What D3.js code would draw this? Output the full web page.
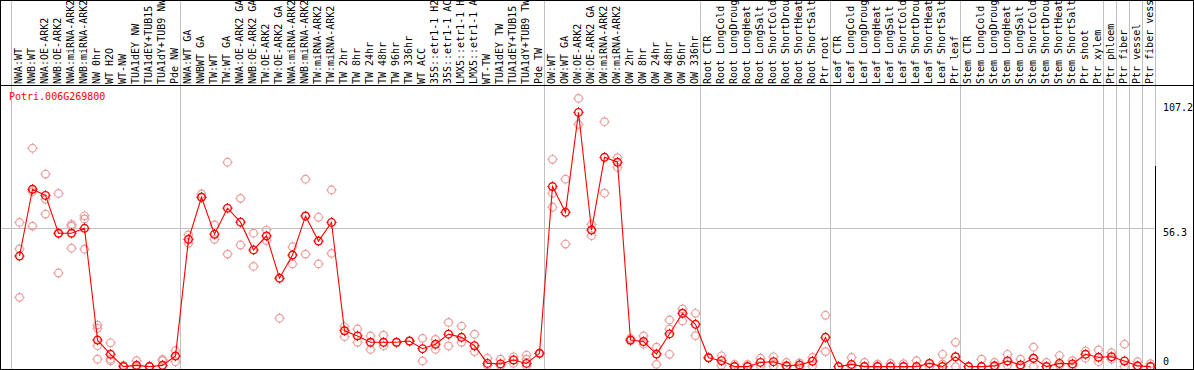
<!DOCTYPE html>
<html><head><meta charset="utf-8">
<script src="https://cdn.jsdelivr.net/npm/d3@7"></script>
<style>body{margin:0;background:#fff}svg{display:block}text{font-family:"DejaVu Sans Mono",monospace;font-size:10px}</style>
</head><body><svg id="c" width="1194" height="370"></svg>
<script>
const title = "Potri.006G269800";
const categories = ["NWA:WT","NWB:WT","NWA:OE-ARK2","NWB:OE-ARK2","NWA:miRNA-ARK2","NWB:miRNA-ARK2","NW 0hr","WT H2O","WT-NW","TUA1dEY NW","TUA1dEY+TUB15 NW","TUA1dY+TUB9 NW","Pde NW",
"NWA:WT GA","NWBWT GA","TW:WT","TW:WT GA","NWA:OE-ARK2 GA","NWB:OE-ARK2 GA","TW:OE-ARK2","TW:OE-ARK2 GA","NWA:miRNA-ARK2","NWB:miRNA-ARK2","TW:miRNA-ARK2","TW:miRNA-ARK2","TW 2hr","TW 8hr","TW 24hr","TW 48hr","TW 96hr","TW 336hr","WT ACC","35S::etr1-1 H2O","35S::etr1-1 ACC","LMX5::etr1-1 H2O","LMX5::etr1-1 ACC","WT-TW","TUA1dEY TW","TUA1dEY+TUB15 TW","TUA1dY+TUB9 TW","Pde TW",
"OW:WT","OW:WT GA","OW:OE-ARK2","OW:OE-ARK2 GA","OW:miRNA-ARK2","OW:miRNA-ARK2","OW 2hr","OW 8hr","OW 24hr","OW 48hr","OW 96hr","OW 336hr",
"Root CTR","Root LongCold","Root LongDrought","Root LongHeat","Root LongSalt","Root ShortCold","Root ShortDrought","Root ShortHeat","Root ShortSalt","Ptr root",
"Leaf CTR","Leaf LongCold","Leaf LongDrought","Leaf LongHeat","Leaf LongSalt","Leaf ShortCold","Leaf ShortDrought","Leaf ShortHeat","Leaf ShortSalt","Ptr leaf",
"Stem CTR","Stem LongCold","Stem LongDrought","Stem LongHeat","Stem LongSalt","Stem ShortCold","Stem ShortDrought","Stem ShortHeat","Stem ShortSalt","Ptr shoot",
"Ptr xylem","Ptr phloem","Ptr fiber","Ptr vessel","Ptr fiber vessel"];
const means = [45.0,72.2,69.7,54.3,54.3,56.3,10.8,5.0,0.0,0.5,0.0,0.5,4.3,
51.8,68.9,53.9,64.5,58.8,47.5,53.2,36.0,45.4,61.3,51.1,58.7,14.6,12.5,9.9,9.9,9.9,10.4,7.3,9.1,13.2,11.9,8.5,1.3,1.1,2.7,1.3,5.4,
73.3,62.8,103.5,55.6,85.2,83.2,10.8,10.2,5.1,13.3,21.7,17.2,
3.6,2.4,0.0,0.0,1.7,2.0,0.3,0.7,2.2,11.9,
0.0,0.9,0.0,0.0,0.0,0.0,0.0,1.3,0.0,4.0,
0.0,0.0,0.3,2.3,0.7,3.4,0.0,1.3,1.1,5.0,
3.8,4.0,2.3,0.3,0.0];
const replicates = [[58.7,47.9,28.2],[88.9,71.2,57.2],[78.4,68.1,62.1],[70.5,38.1,54.3],[57.9,57.2,48.2],[61.4,60.1,47.8],[16.9,15.6,8.5,3.0],[9.7,3.0,2.3],[0.5,0.2],[2.4,0.0],[0.3,0.0],[2.9,2.4],[6.5,2.0],
[53.6,50.2],[70.3,69.1],[57.7,51.8],[83.2,45.8],[68.5,49.5],[54.3,40.8],[55.6,51.3],[19.7,36.0],[48.8,41.8],[76.3,45.8],[60.8,41.8],[71.9,46.1],[16.3,12.2],[15.3,9.9],[12.5,7.0],[12.8,8.4],[9.9,9.9],[10.4,10.4],[11.5,2.3],[11.1,7.0],[18.0,8.4],[16.5,9.9],[13.2,6.1],[3.4,0.5],[3.0,0.3],[4.0,1.3],[4.7,3.0,0.2],[5.4,5.4],
[84.4,70.6,64.9],[76.3,49.9],[109.2,98.6],[57.9,53.3],[99.7,70.6],[85.1,81.1],[11.5,10.5],[12.5,9.1],[7.9,0.9],[19.0,15.3,5.0],[23.5,18.6],[21.7,12.6],
[3.6,3.6],[4.4,0.5],[0.9,0.0],[0.9,0.0],[3.4,0.2],[4.0,0.2],[1.7,0.0],[1.5,0.0],[3.7,0.2],[20.9,6.1],
[0.0],[3.7,0.0],[1.7,0.0],[1.0,0.0],[1.3,0.0],[1.2,0.0],[2.4,0.0],[1.2,0.0],[5.0,1.0],[9.9,0.0],
[0.0],[3.0,0.0],[1.7,0.0],[5.0,0.5],[3.0,0.0],[7.9,0.0],[1.7,0.0],[4.5,0.5],[2.4,0.3],[6.4,3.4],
[6.8,2.0],[5.7,3.0],[9.1,0.0],[2.0,0.0],[1.2,0.0]];
const separators = [-1,12,40,52,62,72,83,84,85,86,87];
const yTicks = [0,56.3,107.2];

const svg = d3.select("#c");
const W = 1194, plotTop = 85.5, plotBottom = 369, plotRight = 1155.5;
const x = d3.scaleLinear().domain([0, categories.length-1]).range([19.5, 19.5+13*(categories.length-1)]);
const y = d3.scaleLinear().domain([0, 107.2]).range([366.6, 103.3]);

svg.append("defs").append("clipPath").attr("id","plot").append("rect").attr("x",1).attr("y",plotTop).attr("width",plotRight-1).attr("height",plotBottom-plotTop);

// grid
svg.append("g").selectAll("line").data(separators).join("line")
  .attr("x1", d=>x(d)+4.5).attr("x2", d=>x(d)+4.5).attr("y1",0).attr("y2",plotBottom)
  .attr("stroke","#c0c0c0").attr("stroke-width",1).attr("shape-rendering","crispEdges");
svg.append("line").attr("x1",1).attr("x2",plotRight).attr("y1",y(56.3)).attr("y2",y(56.3))
  .attr("stroke","#c0c0c0").attr("shape-rendering","crispEdges");

// header labels
svg.append("g").selectAll("text").data(categories).join("text")
  .attr("transform",(d,i)=>`translate(${x(i)+2.5},84) rotate(-90)`)
  .attr("fill","#000").text(d=>d);

// frame
svg.append("rect").attr("x",0.5).attr("y",0.5).attr("width",W-1).attr("height",plotBottom-0.5)
  .attr("fill","none").attr("stroke","#000").attr("shape-rendering","crispEdges");
svg.append("line").attr("x1",0).attr("x2",W).attr("y1",plotTop).attr("y2",plotTop).attr("stroke","#000").attr("shape-rendering","crispEdges");
svg.append("line").attr("x1",plotRight).attr("x2",plotRight).attr("y1",plotTop+80).attr("y2",plotBottom).attr("stroke","#000").attr("shape-rendering","crispEdges");

// title
svg.append("text").attr("x",9).attr("y",100).attr("fill","#ff0000").text(title);

// y tick labels
svg.append("g").selectAll("text").data(yTicks).join("text")
  .attr("x",1163).attr("y",d=> d===0 ? y(d)-1.5 : y(d)+8)
  .attr("fill","#000").text(d=>d);

const plot = svg.append("g").attr("clip-path","url(#plot)");
function marker(g, cx, cy, color, w){
  g.append("circle").attr("cx",cx).attr("cy",cy).attr("r",3.8).attr("fill","none").attr("stroke",color).attr("stroke-width",w);
  [[0,-1],[0,1],[-1,0],[1,0]].forEach(([dx,dy])=>{
    g.append("line").attr("x1",cx+dx*3.8).attr("y1",cy+dy*3.8).attr("x2",cx+dx*5.2).attr("y2",cy+dy*5.2)
      .attr("stroke",color).attr("stroke-width",1);
  });
}
const pale = plot.append("g");
replicates.forEach((arr,i)=>arr.forEach(v=>marker(pale, x(i), y(v), "#ec9a9a", 1.2)));
plot.append("path").datum(means)
  .attr("d", d3.line().x((d,i)=>x(i)).y(d=>y(d)))
  .attr("fill","none").attr("stroke","#ff0000").attr("stroke-width",1.1);
const mg = plot.append("g");
means.forEach((v,i)=>marker(mg, x(i), y(v), "#ff0000", 1.4));
</script></body></html>
